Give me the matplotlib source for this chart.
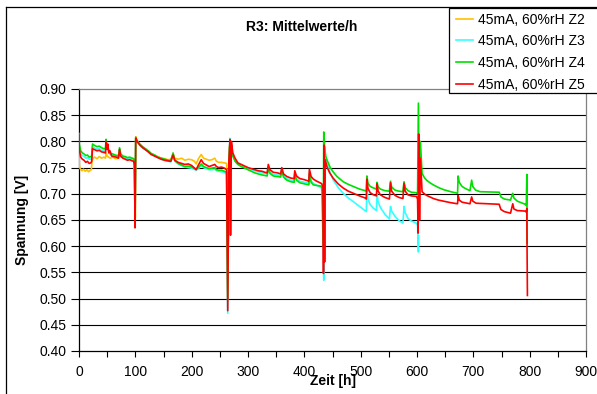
import matplotlib
matplotlib.use("Agg")
import matplotlib.pyplot as plt
from matplotlib.lines import Line2D
from matplotlib.patches import Rectangle

plt.rcParams['font.family'] = ['Liberation Sans', 'DejaVu Sans']

# Hourly mean cell voltages, R3 stack, 45 mA / 60 %rH
t_z2 = [0, 0.5, 2, 5, 8, 11, 14, 17, 20, 22, 23, 25, 28, 32, 36, 40, 44, 47, 48, 50,
        55, 60, 65, 70, 72, 75, 80, 85, 90, 95, 98, 99, 100, 100.7, 103, 108, 113, 118,
        123, 128, 134, 140, 146, 152, 158, 163, 167, 170, 176, 182, 188, 194, 200, 205,
        208, 212, 217, 221, 226, 231, 236, 241, 244, 248, 253, 258, 262, 263, 264,
        265.5, 266, 267.5]
v_z2 = [0.785, 0.755, 0.748, 0.744, 0.747, 0.743, 0.746, 0.742, 0.745, 0.746, 0.762,
        0.768, 0.770, 0.767, 0.771, 0.768, 0.770, 0.768, 0.778, 0.772, 0.768, 0.770,
        0.767, 0.768, 0.777, 0.770, 0.768, 0.769, 0.766, 0.768, 0.765, 0.700, 0.655,
        0.809, 0.800, 0.793, 0.788, 0.785, 0.781, 0.777, 0.774, 0.771, 0.768, 0.767,
        0.765, 0.766, 0.776, 0.768, 0.766, 0.768, 0.764, 0.766, 0.765, 0.762, 0.757,
        0.767, 0.775, 0.768, 0.766, 0.764, 0.765, 0.768, 0.762, 0.760, 0.760, 0.759,
        0.758, 0.700, 0.580, 0.620, 0.760, 0.790]

t_z3 = [0, 0.5, 3, 6, 9, 12, 15, 18, 21, 22.5, 24, 28, 32, 36, 40, 44, 47, 48, 50, 53,
        56, 60, 64, 68, 70, 72, 74, 78, 82, 86, 90, 94, 97, 98.5, 99.5, 100.7, 103, 108,
        113, 118, 123, 128, 134, 140, 146, 152, 158, 163, 167, 170, 176, 182, 188, 194,
        200, 204, 208, 212, 217, 221, 226, 231, 236, 241, 244, 248, 253, 258, 262, 264,
        266, 268, 270, 273, 277, 282, 288, 294, 300, 306, 312, 318, 325, 330, 334, 336,
        339, 345, 352, 358, 360, 363, 369, 376, 382, 383, 386, 392, 400, 408, 409, 412,
        416, 422, 428, 431, 433, 434.5, 436, 438, 442, 446, 451, 460, 469, 478, 487,
        498, 508, 510, 511, 513, 517, 523, 528, 529, 531, 535, 543, 551, 553, 555, 561,
        568, 575, 577, 579, 584, 590, 599, 601, 602.5, 603]
v_z3 = [0.805, 0.790, 0.776, 0.773, 0.771, 0.768, 0.769, 0.766, 0.766, 0.768, 0.790,
        0.787, 0.785, 0.786, 0.783, 0.781, 0.780, 0.798, 0.786, 0.779, 0.774, 0.773,
        0.772, 0.771, 0.770, 0.784, 0.773, 0.770, 0.768, 0.766, 0.767, 0.765, 0.764,
        0.735, 0.645, 0.806, 0.800, 0.793, 0.788, 0.784, 0.780, 0.776, 0.773, 0.769,
        0.766, 0.764, 0.762, 0.761, 0.772, 0.762, 0.757, 0.754, 0.751, 0.750, 0.749,
        0.747, 0.745, 0.748, 0.754, 0.750, 0.748, 0.746, 0.746, 0.747, 0.744, 0.743,
        0.742, 0.741, 0.738, 0.472, 0.760, 0.806, 0.795, 0.774, 0.764, 0.757, 0.754,
        0.751, 0.748, 0.746, 0.744, 0.742, 0.740, 0.739, 0.738, 0.750, 0.742, 0.737,
        0.736, 0.735, 0.747, 0.735, 0.729, 0.726, 0.725, 0.740, 0.729, 0.724, 0.722,
        0.720, 0.742, 0.725, 0.720, 0.716, 0.713, 0.710, 0.700, 0.535, 0.790, 0.768,
        0.752, 0.740, 0.727, 0.712, 0.701, 0.692, 0.685, 0.676, 0.668, 0.666, 0.712,
        0.690, 0.679, 0.672, 0.668, 0.701, 0.685, 0.674, 0.661, 0.652, 0.676, 0.667,
        0.657, 0.649, 0.644, 0.676, 0.664, 0.653, 0.648, 0.644, 0.640, 0.589, 0.620]

t_z4 = [0, 0.5, 3, 6, 9, 12, 15, 18, 21, 22.5, 24, 28, 32, 36, 40, 44, 47, 48, 50, 53,
        56, 60, 64, 68, 70, 72, 74, 78, 82, 86, 90, 94, 97, 98.5, 99.5, 100.7, 103, 108,
        113, 118, 123, 128, 134, 140, 146, 152, 158, 163, 167, 170, 176, 182, 188, 194,
        200, 204, 208, 212, 217, 221, 226, 231, 236, 241, 244, 248, 253, 258, 262, 264,
        266, 268, 270, 273, 277, 282, 288, 294, 300, 306, 312, 318, 325, 330, 334, 336,
        339, 345, 352, 358, 360, 363, 369, 376, 382, 383, 386, 392, 400, 408, 409, 412,
        416, 422, 428, 431, 433.5, 434.5, 436, 438, 442, 446, 451, 458, 469, 478, 487,
        498, 508, 510, 511, 513, 517, 523, 528, 529, 531, 535, 543, 551, 553, 555, 561,
        568, 575, 577, 579, 584, 590, 599, 601, 602.5, 604, 606, 609, 613, 617, 623,
        629, 638, 647, 660, 672, 673, 675, 680, 686, 694, 697, 699, 704, 712, 746, 747,
        749, 755, 766, 770, 772, 778, 792, 794, 795, 795.5]
v_z4 = [0.815, 0.795, 0.782, 0.778, 0.776, 0.773, 0.774, 0.770, 0.771, 0.772, 0.795,
        0.792, 0.790, 0.791, 0.788, 0.786, 0.786, 0.804, 0.790, 0.782, 0.777, 0.776,
        0.774, 0.773, 0.772, 0.788, 0.776, 0.772, 0.771, 0.769, 0.770, 0.768, 0.767,
        0.760, 0.640, 0.808, 0.802, 0.795, 0.790, 0.786, 0.782, 0.777, 0.774, 0.770,
        0.768, 0.766, 0.764, 0.763, 0.778, 0.764, 0.758, 0.755, 0.752, 0.753, 0.751,
        0.749, 0.747, 0.750, 0.757, 0.752, 0.750, 0.748, 0.749, 0.750, 0.746, 0.745,
        0.745, 0.743, 0.741, 0.500, 0.760, 0.802, 0.795, 0.772, 0.762, 0.756, 0.752,
        0.749, 0.746, 0.743, 0.740, 0.738, 0.736, 0.735, 0.734, 0.748, 0.739, 0.734,
        0.733, 0.732, 0.745, 0.732, 0.726, 0.723, 0.722, 0.738, 0.726, 0.721, 0.719,
        0.717, 0.738, 0.722, 0.717, 0.716, 0.715, 0.714, 0.600, 0.818, 0.790, 0.771,
        0.760, 0.750, 0.742, 0.733, 0.723, 0.718, 0.714, 0.709, 0.706, 0.705, 0.734,
        0.720, 0.714, 0.711, 0.709, 0.722, 0.713, 0.709, 0.706, 0.705, 0.724, 0.713,
        0.707, 0.705, 0.704, 0.723, 0.712, 0.706, 0.703, 0.702, 0.700, 0.873, 0.700,
        0.800, 0.739, 0.731, 0.726, 0.721, 0.717, 0.712, 0.708, 0.704, 0.701, 0.734,
        0.722, 0.714, 0.710, 0.706, 0.726, 0.714, 0.707, 0.704, 0.703, 0.700, 0.694,
        0.690, 0.688, 0.701, 0.692, 0.686, 0.680, 0.678, 0.737, 0.606]

t_z5 = [0, 0.5, 3, 6, 9, 12, 15, 18, 21, 22.5, 24, 28, 32, 36, 40, 44, 47, 48, 49.5,
        51, 53, 55, 58, 62, 66, 70, 72, 74, 78, 82, 86, 90, 94, 97, 98.5, 99.5, 100.7,
        103, 108, 113, 118, 123, 128, 134, 140, 146, 152, 158, 163, 167, 170, 176, 182,
        188, 194, 200, 204, 208, 212, 217, 221, 226, 231, 236, 241, 244, 248, 253, 258,
        262, 264, 266, 268, 269, 270.5, 273, 277, 282, 288, 294, 300, 306, 312, 318,
        325, 330, 334, 336, 339, 345, 352, 358, 360, 363, 369, 376, 382, 383, 386, 392,
        400, 408, 409, 412, 416, 422, 428, 431, 433, 434, 435, 436, 437, 440, 445, 451,
        460, 469, 478, 487, 498, 508, 510, 511, 513, 517, 523, 528, 529, 531, 535, 543,
        551, 553, 555, 561, 568, 575, 577, 579, 584, 590, 599, 601, 602, 603, 604.5,
        606, 609, 613, 617, 623, 629, 638, 647, 660, 672, 673, 675, 680, 694, 697, 699,
        705, 746, 747, 749, 755, 766, 770, 772, 778, 792, 794, 795, 795.3, 796]
v_z5 = [0.812, 0.785, 0.770, 0.766, 0.764, 0.760, 0.762, 0.758, 0.759, 0.762, 0.786,
        0.784, 0.782, 0.783, 0.780, 0.779, 0.778, 0.800, 0.785, 0.795, 0.778, 0.782,
        0.772, 0.771, 0.770, 0.768, 0.785, 0.772, 0.768, 0.766, 0.764, 0.765, 0.763,
        0.762, 0.755, 0.635, 0.806, 0.800, 0.793, 0.788, 0.784, 0.780, 0.775, 0.772,
        0.769, 0.766, 0.764, 0.763, 0.762, 0.774, 0.764, 0.760, 0.758, 0.756, 0.757,
        0.754, 0.750, 0.746, 0.755, 0.765, 0.758, 0.755, 0.752, 0.754, 0.756, 0.752,
        0.750, 0.751, 0.749, 0.746, 0.477, 0.760, 0.804, 0.621, 0.800, 0.778, 0.768,
        0.759, 0.756, 0.753, 0.750, 0.748, 0.746, 0.744, 0.743, 0.741, 0.740, 0.756,
        0.746, 0.741, 0.740, 0.738, 0.750, 0.738, 0.733, 0.730, 0.729, 0.744, 0.734,
        0.729, 0.727, 0.724, 0.747, 0.733, 0.728, 0.724, 0.721, 0.719, 0.712, 0.548,
        0.793, 0.570, 0.765, 0.752, 0.740, 0.730, 0.719, 0.711, 0.705, 0.701, 0.696,
        0.692, 0.690, 0.728, 0.710, 0.702, 0.698, 0.696, 0.719, 0.705, 0.698, 0.693,
        0.690, 0.721, 0.705, 0.697, 0.693, 0.691, 0.720, 0.705, 0.698, 0.696, 0.695,
        0.690, 0.625, 0.814, 0.650, 0.768, 0.704, 0.700, 0.697, 0.694, 0.691, 0.688,
        0.686, 0.683, 0.681, 0.697, 0.688, 0.684, 0.681, 0.694, 0.686, 0.682, 0.680,
        0.676, 0.670, 0.666, 0.663, 0.681, 0.671, 0.668, 0.667, 0.665, 0.672, 0.608,
        0.506]

series_labels = ["45mA, 60%rH Z2", "45mA, 60%rH Z3", "45mA, 60%rH Z4", "45mA, 60%rH Z5"]
series_colors = ["#FFC000", "#33FFFF", "#00E000", "#FF0000"]

x_ticks = list(range(0, 1000, 100))
y_ticks = [0.40, 0.45, 0.50, 0.55, 0.60, 0.65, 0.70, 0.75, 0.80, 0.85, 0.90]

W, H = 597, 394
fig = plt.figure(figsize=(W / 100, H / 100), dpi=100)
ax = fig.add_axes([79 / W, 1 - 351 / H, (586 - 79) / W, (351 - 89) / H])

for y in y_ticks[1:-1]:
    ax.axhline(y, color="black", lw=0.8, zorder=1)

data = [(t_z2, v_z2), (t_z3, v_z3), (t_z4, v_z4), (t_z5, v_z5)]
handles = []
for (t, v), lab, col in zip(data, series_labels, series_colors):
    h, = ax.plot(t, v, color=col, lw=1.2, label=lab, zorder=3)
    handles.append(h)

ax.set_xlim(0, 900)
ax.set_ylim(0.40, 0.90)
ax.set_xticks(x_ticks)
ax.set_xticks(range(50, 900, 100), minor=True)
ax.set_yticks(y_ticks)
ax.set_yticklabels([f"{y:.2f}" for y in y_ticks])
ax.tick_params(axis="both", which="both", direction="out", labelsize=10,
               color="black", width=0.8)
ax.tick_params(axis="x", which="major", length=4, pad=6)
ax.tick_params(axis="x", which="minor", length=4)
ax.tick_params(axis="y", length=6, pad=3)
for side in ("left", "bottom"):
    ax.spines[side].set_color("black")
    ax.spines[side].set_linewidth(0.9)
for side in ("top", "right"):
    ax.spines[side].set_color("#808080")
    ax.spines[side].set_linewidth(0.9)

fig.text(302 / W, 1 - 27 / H, "R3: Mittelwerte/h", fontsize=10, fontweight="bold",
         ha="center", va="center")
fig.text(22 / W, 1 - 220 / H, "Spannung [V]", fontsize=10, fontweight="bold",
         rotation=90, ha="center", va="center")
fig.text(333 / W, 1 - 381 / H, "Zeit [h]", fontsize=10, fontweight="bold",
         ha="center", va="center")

# chart-area border (left and top edges)
fig.add_artist(Line2D([6 / W, 6 / W], [0, 1 - 7 / H], color="black", lw=0.9,
                      transform=fig.transFigure))
fig.add_artist(Line2D([6 / W, 1], [1 - 7 / H, 1 - 7 / H], color="black", lw=0.9,
                      transform=fig.transFigure))

# legend box running past the right edge
fig.add_artist(Rectangle((449 / W, 1 - 93 / H), (620 - 449) / W, (93 - 7.5) / H,
                         transform=fig.transFigure, facecolor="white",
                         edgecolor="black", lw=0.9, zorder=5))
leg = fig.legend(handles=handles, loc="upper left",
                 bbox_to_anchor=(452 / W, 1 - 8.5 / H), fontsize=10,
                 handlelength=1.2, handletextpad=0.35, labelspacing=0.55,
                 borderpad=0.3, borderaxespad=0, frameon=False)
leg.set_zorder(6)

fig.savefig("out.png", dpi=100)
